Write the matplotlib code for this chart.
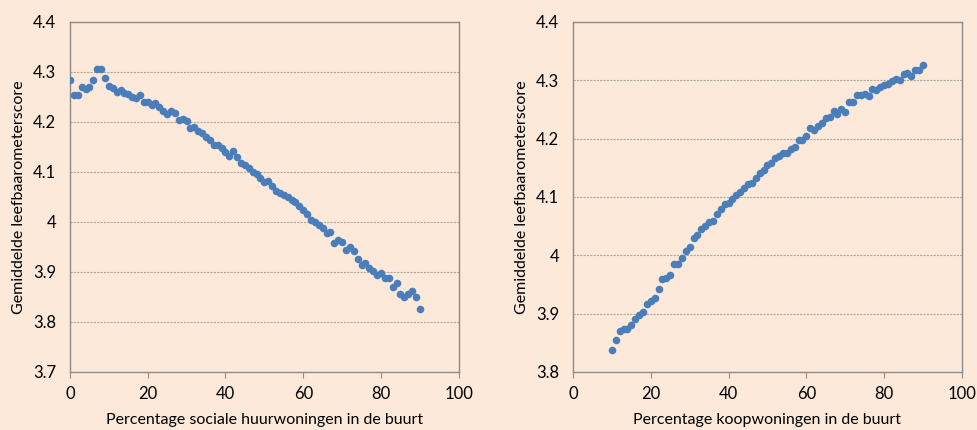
import numpy as np
import matplotlib.pyplot as plt

plt.rcParams['font.family'] = ['Lato', 'DejaVu Sans']

# percentage sociale huurwoningen (0..90)
x_sociaal = np.arange(0, 91)
y_sociaal = [4.284, 4.254, 4.253, 4.270, 4.266, 4.269, 4.284, 4.305, 4.305, 4.287,
             4.271, 4.268, 4.260, 4.263, 4.258, 4.256, 4.250, 4.248, 4.253, 4.239,
             4.239, 4.234, 4.237, 4.229, 4.222, 4.216, 4.221, 4.218, 4.204, 4.205,
             4.201, 4.187, 4.190, 4.181, 4.178, 4.169, 4.163, 4.153, 4.153, 4.147,
             4.139, 4.131, 4.141, 4.129, 4.117, 4.114, 4.107, 4.099, 4.095, 4.087,
             4.079, 4.081, 4.072, 4.061, 4.058, 4.053, 4.050, 4.043, 4.039, 4.032,
             4.023, 4.015, 4.003, 3.999, 3.993, 3.988, 3.978, 3.979, 3.958, 3.964,
             3.960, 3.943, 3.950, 3.941, 3.926, 3.914, 3.918, 3.907, 3.901, 3.894,
             3.897, 3.887, 3.887, 3.870, 3.878, 3.855, 3.849, 3.855, 3.861, 3.849,
             3.825]

# percentage koopwoningen (10..90)
x_koop = np.arange(10, 91)
y_koop = [3.838, 3.855, 3.871, 3.874, 3.874, 3.881, 3.890, 3.897, 3.903, 3.917,
          3.921, 3.926, 3.943, 3.960, 3.961, 3.967, 3.985, 3.985, 3.995, 4.007,
          4.015, 4.029, 4.035, 4.045, 4.050, 4.057, 4.059, 4.071, 4.080, 4.088,
          4.090, 4.097, 4.103, 4.108, 4.115, 4.122, 4.124, 4.133, 4.141, 4.146,
          4.154, 4.158, 4.166, 4.171, 4.176, 4.175, 4.183, 4.185, 4.197, 4.198,
          4.204, 4.218, 4.214, 4.222, 4.227, 4.235, 4.237, 4.247, 4.243, 4.250,
          4.246, 4.263, 4.263, 4.275, 4.275, 4.276, 4.273, 4.285, 4.283, 4.289,
          4.292, 4.294, 4.298, 4.303, 4.301, 4.311, 4.313, 4.307, 4.318, 4.317,
          4.326]

bg = '#fde9d9'
dot = '#4a7ebb'
spine = '#8c8c8c'

fig = plt.figure(figsize=(9.77, 4.3), dpi=100, facecolor=bg)

panels = [
    (0.0716, x_sociaal, y_sociaal, (3.7, 4.4), 'Percentage sociale huurwoningen in de buurt'),
    (0.5865, x_koop, y_koop, (3.8, 4.4), 'Percentage koopwoningen in de buurt'),
]

for left, xs, ys, ylim, xlabel in panels:
    ax = fig.add_axes([left, 0.135, 0.398, 0.814])
    ax.set_facecolor(bg)
    ax.scatter(xs, ys, s=30, color=dot, zorder=3, linewidths=0)
    ax.set_xlim(0, 100)
    ax.set_ylim(*ylim)
    ax.set_xticks(range(0, 101, 20))
    yt = np.round(np.arange(ylim[0], 4.41, 0.1), 1)
    ax.set_yticks(yt)
    ax.set_yticklabels(['%g' % t for t in yt])
    ax.yaxis.grid(True, color='#b0a8a0', linestyle=(0, (2, 1)), linewidth=0.8)
    ax.set_axisbelow(True)
    for s in ax.spines.values():
        s.set_color(spine)
        s.set_linewidth(1.0)
    ax.tick_params(axis='x', length=4, color=spine, labelsize=12, pad=6)
    ax.tick_params(axis='y', length=0, labelsize=12, pad=10)
    ax.set_xlabel(xlabel, fontsize=11.5, labelpad=8)
    ax.set_ylabel('Gemiddelde leefbaarometerscore', fontsize=11.5, labelpad=5)

fig.savefig('out.png', dpi=100, facecolor=bg)
